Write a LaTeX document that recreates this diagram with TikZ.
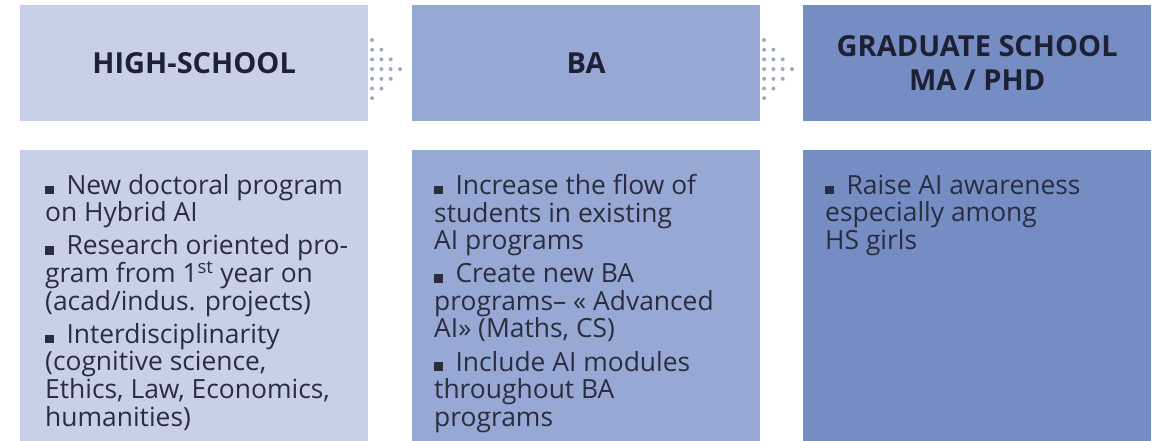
\documentclass[tikz,border=0pt]{standalone}
\usepackage{fontspec}
\setmainfont{Open Sans}
\usetikzlibrary{calc}
\definecolor{hsfill}{HTML}{C8D0E8}
\definecolor{bafill}{HTML}{98A8D4}
\definecolor{gsfill}{HTML}{768DC4}
\definecolor{ink}{HTML}{1E2136}
\definecolor{bodyink}{HTML}{2A2D40}
\definecolor{dotc}{HTML}{A0A9C3}
\newcommand{\bul}{\rule{8.3pt}{8.7pt}\hspace{13pt}}
\begin{document}
\begin{tikzpicture}[x=1pt,y=-1pt,
  headbox/.style={anchor=north west, inner sep=0pt, minimum width=348pt, minimum height=116pt,
    font=\fontsize{29}{34}\selectfont\bfseries, text=ink, align=center},
  bodybox/.style={anchor=north west, inner sep=0pt, minimum width=348pt, minimum height=291pt},
  bodytext/.style={anchor=north west, inner sep=0pt, align=left, text=bodyink,
    font=\fontsize{26.4}{27.6}\selectfont},
  dotmark/.style={fill=dotc}]
\useasboundingbox (0,0) rectangle (1152,441);
\fill[white] (0,0) rectangle (1152,441);
% header boxes
\node[headbox, fill=hsfill] (hs) at (20,5) {HIGH-SCHOOL};
\node[headbox, fill=bafill] (ba) at (412,5) {BA};
\node[headbox, fill=gsfill] (gs) at (803,5) {GRADUATE SCHOOL\\MA / PHD};
% body boxes
\node[bodybox, fill=hsfill] (hsb) at (20,150) {};
\node[bodybox, fill=bafill] (bab) at (412,150) {};
\node[bodybox, fill=gsfill] (gsb) at (803,150) {};
% body texts
\node[bodytext] (hst) at (45,174) {\rule{0pt}{20pt}\bul New doctoral program\\
on Hybrid AI\\[5.5pt]
\bul Research oriented pro-\\
gram from 1\textsuperscript{st} year on\\
(acad/indus. projects)\\[5.5pt]
\bul Interdisciplinarity\\
(cognitive science,\\
Ethics, Law, Economics,\\
humanities)};
\node[bodytext] (bat) at (434,174) {\rule{0pt}{20pt}\bul Increase the flow of\\
students in existing\\
AI programs\\[5.5pt]
\bul Create new BA\\
programs– « Advanced\\
AI» (Maths, CS)\\[5.5pt]
\bul Include AI modules\\
throughout BA\\
programs};
\node[bodytext] (gst) at (825,174) {\rule{0pt}{20pt}\bul Raise AI awareness\\
especially among\\
HS girls};
% dotted arrows between header boxes
\foreach \bx in {hs,ba} {
  \foreach \c in {0,...,3} {
    \pgfmathtruncatemacro\lo{\c}
    \pgfmathtruncatemacro\hi{6-\c}
    \foreach \r in {\lo,...,\hi} {
      \fill[dotmark] ($(\bx.north east)+(3.7+\c*9.3,35+\r*9.7)$) circle (2pt);
    }
  }
}
\end{tikzpicture}
\end{document}
